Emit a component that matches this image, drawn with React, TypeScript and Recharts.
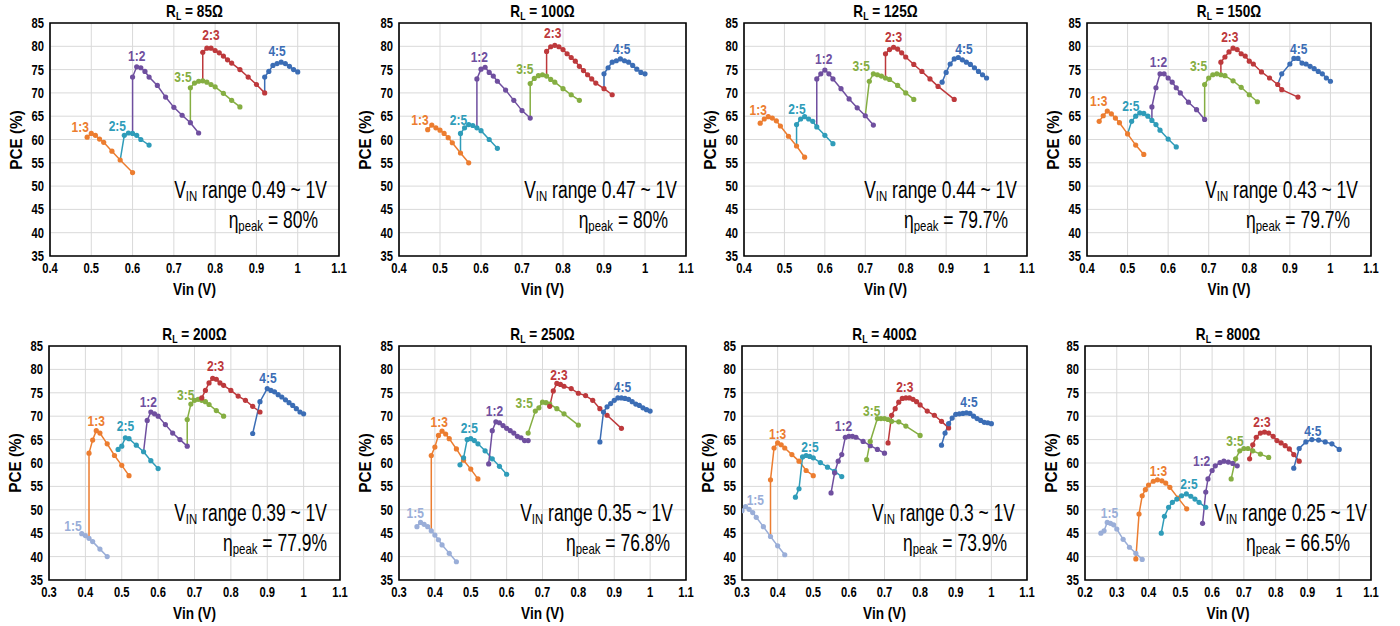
import React from 'react'
import {
  CartesianGrid,
  Line,
  LineChart,
  ReferenceArea,
  ReferenceDot,
  XAxis,
  YAxis,
} from 'recharts'

type Pt = [number, number]

// tick labels
const yTicks = [35, 40, 45, 50, 55, 60, 65, 70, 75, 80, 85]
const xTicksA = [0.4, 0.5, 0.6, 0.7, 0.8, 0.9, 1, 1.1]
const xTicksB = [0.3, 0.4, 0.5, 0.6, 0.7, 0.8, 0.9, 1, 1.1]
const xTicksC = [0.2, 0.3, 0.4, 0.5, 0.6, 0.7, 0.8, 0.9, 1, 1.1]

// R_L = 85 Ohm
const r85_13: Pt[] = [[0.49, 60.5], [0.5, 61.3], [0.51, 60.9], [0.52, 60.1], [0.53, 59.4], [0.55, 57.5], [0.57, 55.6], [0.6, 52.9]]
const r85_25: Pt[] = [[0.57, 55.6], [0.58, 60.9], [0.59, 61.4], [0.6, 61.3], [0.61, 60.9], [0.62, 60.0], [0.64, 58.8]]
const r85_12: Pt[] = [[0.6, 61.3], [0.6, 73.4], [0.61, 75.6], [0.62, 75.4], [0.63, 74.6], [0.64, 73.4], [0.66, 71.6], [0.68, 69.1], [0.7, 66.9], [0.72, 65.2], [0.74, 63.6], [0.76, 61.4]]
const r85_35: Pt[] = [[0.74, 63.6], [0.74, 71.1], [0.75, 72.1], [0.76, 72.5], [0.77, 72.6], [0.78, 72.3], [0.79, 71.8], [0.8, 71.3], [0.82, 69.9], [0.84, 68.4], [0.86, 67.0]]
const r85_23: Pt[] = [[0.77, 72.6], [0.77, 78.7], [0.78, 79.6], [0.79, 79.6], [0.8, 79.1], [0.81, 78.6], [0.82, 77.9], [0.83, 77.1], [0.84, 76.4], [0.86, 75.0], [0.88, 73.4], [0.9, 71.8], [0.92, 70.0]]
const r85_45: Pt[] = [[0.92, 70.0], [0.92, 73.4], [0.93, 74.6], [0.94, 75.9], [0.95, 76.3], [0.96, 76.6], [0.97, 76.3], [0.98, 75.7], [0.99, 75.0], [1.0, 74.5]]

// R_L = 100 Ohm
const r100_13: Pt[] = [[0.47, 62.1], [0.48, 63.1], [0.49, 62.5], [0.5, 62.0], [0.51, 61.3], [0.52, 60.4], [0.53, 59.3], [0.55, 57.1], [0.57, 55.0]]
const r100_25: Pt[] = [[0.55, 57.1], [0.55, 61.3], [0.56, 62.5], [0.57, 63.2], [0.58, 63.0], [0.59, 62.5], [0.6, 61.9], [0.62, 60.0], [0.64, 58.1]]
const r100_12: Pt[] = [[0.59, 62.5], [0.59, 73.0], [0.6, 75.1], [0.61, 75.5], [0.62, 74.4], [0.63, 73.6], [0.64, 72.5], [0.66, 70.6], [0.68, 68.4], [0.7, 66.2], [0.72, 64.6]]
const r100_35: Pt[] = [[0.72, 64.6], [0.72, 72.0], [0.73, 73.1], [0.74, 73.7], [0.75, 73.9], [0.76, 73.6], [0.77, 72.9], [0.78, 72.3], [0.8, 70.9], [0.82, 69.6], [0.84, 68.4]]
const r100_23: Pt[] = [[0.76, 73.6], [0.76, 78.9], [0.77, 79.9], [0.78, 80.2], [0.79, 79.9], [0.8, 79.3], [0.81, 78.4], [0.82, 77.6], [0.83, 76.8], [0.84, 75.7], [0.85, 74.8], [0.86, 73.9], [0.87, 73.0], [0.88, 72.1], [0.9, 70.9], [0.92, 69.6]]
const r100_45: Pt[] = [[0.9, 70.9], [0.9, 74.1], [0.91, 75.4], [0.92, 76.6], [0.93, 76.9], [0.94, 77.3], [0.95, 76.9], [0.96, 76.6], [0.97, 75.9], [0.98, 75.1], [0.99, 74.4], [1.0, 74.1]]

// R_L = 125 Ohm
const r125_13: Pt[] = [[0.44, 63.5], [0.45, 64.4], [0.46, 64.9], [0.47, 64.6], [0.48, 64.0], [0.49, 62.9], [0.51, 60.7], [0.53, 58.6], [0.55, 56.2]]
const r125_25: Pt[] = [[0.53, 58.6], [0.53, 63.2], [0.54, 64.4], [0.55, 64.9], [0.56, 64.4], [0.57, 63.9], [0.58, 62.7], [0.6, 60.9], [0.62, 59.1]]
const r125_12: Pt[] = [[0.58, 62.7], [0.58, 73.0], [0.59, 74.1], [0.6, 74.9], [0.61, 74.1], [0.62, 73.0], [0.64, 70.9], [0.66, 68.7], [0.68, 66.8], [0.7, 65.1], [0.72, 63.1]]
const r125_35: Pt[] = [[0.7, 65.1], [0.71, 72.5], [0.72, 74.1], [0.73, 73.9], [0.74, 73.6], [0.75, 73.2], [0.76, 72.9], [0.78, 71.6], [0.8, 70.0], [0.82, 68.6]]
const r125_23: Pt[] = [[0.75, 73.2], [0.75, 78.4], [0.76, 79.3], [0.77, 79.8], [0.78, 79.4], [0.79, 78.6], [0.8, 77.7], [0.82, 76.1], [0.84, 74.6], [0.86, 73.0], [0.88, 71.4], [0.92, 68.6]]
const r125_45: Pt[] = [[0.89, 72.3], [0.9, 74.4], [0.91, 76.2], [0.92, 77.3], [0.93, 77.6], [0.94, 77.1], [0.95, 76.6], [0.96, 76.1], [0.97, 75.4], [0.98, 74.6], [0.99, 73.9], [1.0, 73.2]]

// R_L = 150 Ohm
const r150_13: Pt[] = [[0.43, 63.9], [0.44, 65.1], [0.45, 66.1], [0.46, 65.5], [0.47, 64.6], [0.48, 63.6], [0.5, 61.2], [0.52, 58.8], [0.54, 56.8]]
const r150_25: Pt[] = [[0.5, 61.2], [0.51, 63.9], [0.52, 65.0], [0.53, 65.7], [0.54, 65.6], [0.55, 65.0], [0.56, 64.1], [0.57, 63.2], [0.58, 62.0], [0.6, 60.1], [0.62, 58.4]]
const r150_12: Pt[] = [[0.56, 64.1], [0.56, 67.0], [0.57, 71.1], [0.58, 74.1], [0.59, 74.1], [0.6, 73.2], [0.61, 72.3], [0.62, 71.1], [0.63, 70.0], [0.65, 68.0], [0.67, 66.4], [0.69, 64.3]]
const r150_35: Pt[] = [[0.69, 64.3], [0.69, 71.8], [0.7, 73.2], [0.71, 73.9], [0.72, 74.1], [0.73, 73.9], [0.74, 73.7], [0.76, 72.6], [0.78, 71.2], [0.8, 69.6], [0.82, 68.1]]
const r150_23: Pt[] = [[0.73, 73.9], [0.73, 76.6], [0.74, 77.7], [0.75, 78.8], [0.76, 79.6], [0.77, 79.3], [0.78, 78.4], [0.79, 77.9], [0.8, 76.8], [0.81, 76.2], [0.83, 74.5], [0.85, 73.2], [0.87, 71.8], [0.88, 70.7], [0.92, 69.1]]
const r150_45: Pt[] = [[0.87, 71.8], [0.88, 74.1], [0.9, 76.2], [0.91, 77.4], [0.92, 77.4], [0.93, 76.4], [0.94, 76.2], [0.95, 75.7], [0.96, 75.2], [0.97, 74.6], [0.98, 74.1], [0.99, 73.2], [1.0, 72.5]]

// R_L = 200 Ohm
const r200_15: Pt[] = [[0.39, 44.9], [0.4, 44.5], [0.41, 43.9], [0.42, 43.2], [0.44, 41.6], [0.46, 40.0]]
const r200_13: Pt[] = [[0.41, 43.9], [0.41, 62.1], [0.42, 64.9], [0.43, 66.9], [0.44, 66.4], [0.46, 64.1], [0.48, 61.6], [0.5, 59.5], [0.52, 57.3]]
const r200_25: Pt[] = [[0.49, 62.9], [0.5, 63.6], [0.51, 65.4], [0.52, 65.2], [0.54, 63.8], [0.56, 62.4], [0.58, 60.5], [0.6, 58.8]]
const r200_12: Pt[] = [[0.56, 62.4], [0.57, 69.1], [0.58, 70.9], [0.59, 70.5], [0.6, 70.0], [0.62, 68.2], [0.64, 66.4], [0.66, 65.0], [0.68, 63.6]]
const r200_35: Pt[] = [[0.68, 63.6], [0.68, 69.3], [0.69, 72.6], [0.7, 73.4], [0.71, 73.6], [0.72, 73.4], [0.73, 73.1], [0.74, 72.5], [0.76, 71.2], [0.78, 70.0]]
const r200_23: Pt[] = [[0.72, 73.9], [0.73, 75.5], [0.74, 77.1], [0.75, 78.1], [0.76, 77.9], [0.77, 77.1], [0.78, 76.6], [0.8, 75.5], [0.82, 74.3], [0.84, 73.4], [0.86, 72.1], [0.88, 70.9]]
const r200_45: Pt[] = [[0.86, 66.3], [0.88, 73.1], [0.9, 75.9], [0.91, 75.5], [0.92, 75.2], [0.93, 74.6], [0.94, 74.1], [0.95, 73.5], [0.96, 72.9], [0.97, 72.3], [0.98, 71.6], [0.99, 70.9], [1.0, 70.5]]

// R_L = 250 Ohm
const r250_15: Pt[] = [[0.35, 46.4], [0.36, 47.3], [0.37, 46.9], [0.38, 46.4], [0.39, 45.5], [0.4, 44.6], [0.41, 43.6], [0.42, 42.5], [0.44, 40.7], [0.46, 38.9]]
const r250_13: Pt[] = [[0.39, 45.5], [0.39, 61.6], [0.4, 63.4], [0.41, 65.9], [0.42, 66.8], [0.43, 66.2], [0.44, 65.2], [0.46, 63.0], [0.48, 60.6], [0.5, 58.7], [0.52, 56.6]]
const r250_25: Pt[] = [[0.47, 59.6], [0.48, 61.1], [0.49, 65.0], [0.5, 65.2], [0.51, 64.8], [0.52, 64.1], [0.54, 62.6], [0.56, 60.9], [0.58, 59.3], [0.6, 57.6]]
const r250_12: Pt[] = [[0.55, 59.8], [0.56, 66.9], [0.57, 68.8], [0.58, 68.6], [0.59, 68.0], [0.6, 67.4], [0.61, 66.9], [0.62, 66.4], [0.63, 65.7], [0.64, 65.4], [0.65, 64.8], [0.66, 64.8]]
const r250_35: Pt[] = [[0.66, 66.4], [0.68, 71.1], [0.69, 71.8], [0.7, 73.0], [0.71, 72.9], [0.72, 72.6], [0.74, 71.6], [0.76, 70.5], [0.8, 68.1]]
const r250_23: Pt[] = [[0.72, 72.1], [0.73, 75.4], [0.74, 77.0], [0.75, 76.8], [0.76, 76.4], [0.78, 75.9], [0.8, 74.9], [0.82, 74.4], [0.84, 73.4], [0.86, 71.6], [0.88, 70.2], [0.92, 67.4]]
const r250_45: Pt[] = [[0.86, 64.5], [0.87, 70.9], [0.88, 72.0], [0.89, 72.7], [0.9, 73.4], [0.91, 73.9], [0.92, 73.9], [0.93, 73.8], [0.94, 73.6], [0.95, 73.1], [0.96, 72.6], [0.97, 72.3], [0.98, 71.8], [0.99, 71.4], [1.0, 71.1]]

// R_L = 400 Ohm
const r400_15: Pt[] = [[0.3, 49.8], [0.31, 50.7], [0.32, 50.1], [0.33, 49.4], [0.34, 48.4], [0.36, 46.4], [0.38, 44.3], [0.4, 42.3], [0.42, 40.4]]
const r400_13: Pt[] = [[0.38, 44.3], [0.38, 56.4], [0.39, 63.2], [0.4, 64.3], [0.41, 63.9], [0.42, 63.2], [0.44, 61.8], [0.46, 60.4], [0.48, 58.4], [0.5, 57.3]]
const r400_25: Pt[] = [[0.45, 52.7], [0.46, 54.5], [0.47, 61.3], [0.48, 61.6], [0.49, 61.4], [0.5, 61.1], [0.52, 60.1], [0.54, 59.1], [0.56, 58.2], [0.58, 57.1]]
const r400_12: Pt[] = [[0.55, 53.6], [0.56, 57.9], [0.57, 60.4], [0.58, 61.8], [0.59, 65.5], [0.6, 65.7], [0.61, 65.7], [0.62, 65.5], [0.64, 64.6], [0.66, 63.7], [0.68, 62.9], [0.7, 62.1]]
const r400_35: Pt[] = [[0.65, 60.7], [0.66, 64.6], [0.68, 69.5], [0.69, 69.5], [0.7, 69.5], [0.71, 69.3], [0.72, 68.9], [0.74, 68.8], [0.76, 67.9], [0.8, 65.9]]
const r400_23: Pt[] = [[0.71, 64.3], [0.72, 70.2], [0.73, 71.6], [0.74, 73.0], [0.75, 73.8], [0.76, 73.9], [0.77, 73.9], [0.78, 73.6], [0.79, 73.1], [0.8, 72.4], [0.82, 71.1], [0.84, 70.2], [0.86, 68.9], [0.88, 67.5]]
const r400_45: Pt[] = [[0.86, 63.8], [0.87, 66.4], [0.88, 68.4], [0.89, 69.6], [0.9, 70.4], [0.91, 70.5], [0.92, 70.6], [0.93, 70.7], [0.94, 70.6], [0.95, 70.0], [0.96, 69.5], [0.97, 69.1], [0.98, 68.7], [0.99, 68.6], [1.0, 68.4]]

// R_L = 800 Ohm
const r800_15: Pt[] = [[0.25, 45.0], [0.26, 45.5], [0.27, 47.3], [0.28, 47.1], [0.29, 46.8], [0.3, 45.9], [0.32, 43.7], [0.34, 42.0], [0.36, 40.7], [0.38, 39.4]]
const r800_13: Pt[] = [[0.36, 39.5], [0.37, 49.1], [0.38, 53.0], [0.39, 54.3], [0.4, 55.3], [0.415, 56.1], [0.428, 56.4], [0.442, 56.2], [0.454, 55.7], [0.467, 54.8], [0.493, 52.5], [0.52, 50.2]]
const r800_25: Pt[] = [[0.44, 45.0], [0.45, 48.6], [0.463, 50.5], [0.475, 51.6], [0.489, 52.3], [0.504, 53.0], [0.519, 53.4], [0.533, 52.9], [0.546, 52.3], [0.559, 51.6], [0.58, 50.5]]
const r800_12: Pt[] = [[0.57, 47.1], [0.58, 53.8], [0.587, 56.6], [0.6, 58.4], [0.61, 59.4], [0.625, 60.1], [0.637, 60.4], [0.651, 60.2], [0.665, 59.9], [0.679, 59.4]]
const r800_35: Pt[] = [[0.66, 56.6], [0.674, 60.9], [0.687, 62.6], [0.7, 63.1], [0.713, 63.1], [0.728, 62.6], [0.752, 61.9], [0.778, 61.2]]
const r800_23: Pt[] = [[0.718, 60.9], [0.728, 63.9], [0.739, 65.5], [0.752, 66.4], [0.765, 66.6], [0.778, 66.4], [0.792, 65.7], [0.804, 64.8], [0.817, 64.3], [0.83, 63.7], [0.843, 63.0], [0.857, 61.8], [0.874, 60.4]]
const r800_45: Pt[] = [[0.857, 58.9], [0.874, 63.1], [0.895, 64.5], [0.914, 65.0], [0.935, 64.9], [0.956, 64.5], [0.977, 64.1], [1.0, 62.9]]

const ratioColors: Record<string, string> = {
  '1:5': '#9aaed8',
  '1:3': '#ec7d30',
  '2:5': '#2f9cb9',
  '1:2': '#6f4f9f',
  '3:5': '#85ae42',
  '2:3': '#bd393c',
  '4:5': '#3b6db5',
}

const FONT = "'Liberation Sans', Arial, sans-serif"
// the source figure uses a narrow face; squeeze the regular one horizontally
const NARROW = 0.8

// [ratio, points, label anchor (x, y)]
type Seg = [string, Pt[], Pt]

const panels = [
  {
    load: '85', vin: '0.49', peak: '80', xTicks: xTicksA,
    left: 50, top: 23, w: 289, h: 233, vinR: 12, etaR: 21,
    segs: [
      ['1:3', r85_13, [0.473, 62.7]], ['2:5', r85_25, [0.563, 63.0]], ['1:2', r85_12, [0.61, 78.1]],
      ['3:5', r85_35, [0.722, 73.4]], ['2:3', r85_23, [0.79, 82.5]], ['4:5', r85_45, [0.95, 79.1]],
    ] as Seg[],
  },
  {
    load: '100', vin: '0.47', peak: '80', xTicks: xTicksA,
    left: 399, top: 23, w: 287, h: 233, vinR: 9, etaR: 18,
    segs: [
      ['1:3', r100_13, [0.451, 64.3]], ['2:5', r100_25, [0.545, 64.3]], ['1:2', r100_12, [0.596, 77.7]],
      ['3:5', r100_35, [0.707, 75.2]], ['2:3', r100_23, [0.775, 82.9]], ['4:5', r100_45, [0.943, 79.5]],
    ] as Seg[],
  },
  {
    load: '125', vin: '0.44', peak: '79.7', xTicks: xTicksA,
    left: 744, top: 23, w: 283, h: 233, vinR: 10, etaR: 19,
    segs: [
      ['1:3', r125_13, [0.435, 66.4]], ['2:5', r125_25, [0.531, 66.6]], ['1:2', r125_12, [0.597, 77.4]],
      ['3:5', r125_35, [0.69, 75.9]], ['2:3', r125_23, [0.77, 82.1]], ['4:5', r125_45, [0.944, 79.4]],
    ] as Seg[],
  },
  {
    load: '150', vin: '0.43', peak: '79.7', xTicks: xTicksA,
    left: 1087, top: 23, w: 284, h: 233, vinR: 13, etaR: 21,
    segs: [
      ['1:3', r150_13, [0.429, 68.3]], ['2:5', r150_25, [0.508, 67.3]], ['1:2', r150_12, [0.576, 76.8]],
      ['3:5', r150_35, [0.675, 75.9]], ['2:3', r150_23, [0.752, 82.0]], ['4:5', r150_45, [0.922, 79.4]],
    ] as Seg[],
  },
  {
    load: '200', vin: '0.39', peak: '77.9', xTicks: xTicksB,
    left: 49, top: 346, w: 291, h: 234, vinR: 13, etaR: 13,
    segs: [
      ['1:5', r200_15, [0.366, 46.6]], ['1:3', r200_13, [0.43, 69.1]], ['2:5', r200_25, [0.51, 67.9]],
      ['1:2', r200_12, [0.573, 73.1]], ['3:5', r200_35, [0.676, 74.6]], ['2:3', r200_23, [0.758, 80.9]],
      ['4:5', r200_45, [0.902, 78.2]],
    ] as Seg[],
  },
  {
    load: '250', vin: '0.35', peak: '76.8', xTicks: xTicksB,
    left: 399, top: 346, w: 287, h: 234, vinR: 13, etaR: 16,
    segs: [
      ['1:5', r250_15, [0.345, 49.3]], ['1:3', r250_13, [0.412, 68.8]], ['2:5', r250_25, [0.496, 67.5]],
      ['1:2', r250_12, [0.566, 71.3]], ['3:5', r250_35, [0.649, 73.0]], ['2:3', r250_23, [0.746, 78.9]],
      ['4:5', r250_45, [0.923, 76.3]],
    ] as Seg[],
  },
  {
    load: '400', vin: '0.3', peak: '73.9', xTicks: xTicksB,
    left: 742, top: 346, w: 285, h: 234, vinR: 12, etaR: 20,
    segs: [
      ['1:5', r400_15, [0.3375, 52.1]], ['1:3', r400_13, [0.4, 66.3]], ['2:5', r400_25, [0.491, 63.6]],
      ['1:2', r400_12, [0.585, 68.0]], ['3:5', r400_35, [0.664, 71.2]], ['2:3', r400_23, [0.757, 76.4]],
      ['4:5', r400_45, [0.937, 73.1]],
    ] as Seg[],
  },
  {
    load: '800', vin: '0.25', peak: '66.5', xTicks: xTicksC,
    left: 1085, top: 346, w: 286, h: 234, vinR: 4, etaR: 21,
    segs: [
      ['1:5', r800_15, [0.277, 49.4]], ['1:3', r800_13, [0.431, 58.4]], ['2:5', r800_25, [0.527, 55.7]],
      ['1:2', r800_12, [0.567, 60.6]], ['3:5', r800_35, [0.672, 64.8]], ['2:3', r800_23, [0.757, 68.8]],
      ['4:5', r800_45, [0.917, 66.9]],
    ] as Seg[],
  },
]

const ML = 50
const MT = 30
const MR = 12
const MB = 50

// squeezed text centred on (x, y) horizontally according to anchor
function Squeezed({ x, y, anchor, dy, children, ...rest }: any) {
  return (
    <g transform={`translate(${x} ${y}) scale(${NARROW} 1)`}>
      <text x={0} y={0} dy={dy} textAnchor={anchor} fontFamily={FONT} {...rest}>
        {children}
      </text>
    </g>
  )
}

const XTick = (props: any) => (
  <Squeezed x={props.x} y={props.y} anchor="middle" dy="0.71em" fontSize={14} fontWeight={700} fill="#000">
    {String(props.payload.value)}
  </Squeezed>
)

const YTick = (props: any) => (
  <Squeezed x={props.x} y={props.y} anchor="end" dy="0.36em" fontSize={14} fontWeight={700} fill="#000">
    {String(props.payload.value)}
  </Squeezed>
)

function Panel({ p }: { p: (typeof panels)[number] }) {
  const W = p.w + ML + MR
  const H = p.h + MT + MB
  const xmin = p.xTicks[0]
  const xmax = p.xTicks[p.xTicks.length - 1]
  const narrowDiv = (origin: string) => ({ transform: `scaleX(${NARROW})`, transformOrigin: origin })
  return (
    <div style={{ position: 'absolute', left: p.left - ML, top: p.top - MT, width: W, height: H }}>
      <LineChart width={W} height={H} margin={{ top: MT, right: MR, bottom: 0, left: 0 }}>
        <CartesianGrid stroke="#d9d9d9" strokeWidth={1} />
        <XAxis
          dataKey="x"
          type="number"
          domain={[xmin, xmax]}
          ticks={p.xTicks}
          interval={0}
          allowDataOverflow
          height={MB}
          axisLine={false}
          tickLine={false}
          tickSize={0}
          tickMargin={7}
          tick={XTick}
        />
        <YAxis
          type="number"
          domain={[35, 85]}
          ticks={yTicks}
          interval={0}
          allowDataOverflow
          width={ML}
          axisLine={false}
          tickLine={false}
          tickSize={0}
          tickMargin={6}
          tick={YTick}
        />
        <ReferenceArea
          x1={xmin}
          x2={xmax}
          y1={35}
          y2={85}
          fill="none"
          fillOpacity={0}
          stroke="#000"
          strokeWidth={1.6}
          ifOverflow="visible"
        />
        {p.segs.map(([ratio, pts], si) => {
          const color = ratioColors[ratio]
          const [fx, fy] = pts[0]
          // first point sits on an earlier series (the switching step): no dot of its own
          const joined = p.segs
            .slice(0, si)
            .some(([, other]) => other.some(([ox, oy]) => ox === fx && oy === fy))
          return (
            <Line
              key={ratio}
              data={pts.map(([x, y]) => ({ x, y }))}
              dataKey="y"
              stroke={color}
              strokeWidth={1.5}
              isAnimationActive={false}
              activeDot={false}
              dot={(props: any) => {
                const { cx, cy, index } = props
                if (joined && index === 0) return <g key={`d${index}`} />
                return <circle key={`d${index}`} cx={cx} cy={cy} r={2.6} fill={color} stroke="none" />
              }}
            />
          )
        })}
        {p.segs.map(([ratio, , at]) => (
          <ReferenceDot
            key={`l${ratio}`}
            x={at[0]}
            y={at[1]}
            r={0}
            fill="none"
            stroke="none"
            label={(lp: any) => {
              const vb = lp.viewBox || {}
              const cx = (vb.x ?? 0) + (vb.width ?? 0) / 2
              const cy = (vb.y ?? 0) + (vb.height ?? 0) / 2
              return (
                <Squeezed x={cx} y={cy} anchor="middle" dy="0.36em" fontSize={15} fontWeight={700} fill={ratioColors[ratio]}>
                  {ratio}
                </Squeezed>
              )
            }}
          />
        ))}
      </LineChart>
      <div
        style={{
          position: 'absolute', left: ML, width: p.w, top: MT - 21, textAlign: 'center',
          fontSize: 17, fontWeight: 700, lineHeight: '20px', ...narrowDiv('center'),
        }}
      >
        R<sub style={{ fontSize: 11, verticalAlign: -3 }}>L</sub> = {p.load}Ω
      </div>
      <div
        style={{
          position: 'absolute', left: ML - 33 - 60, width: 120, top: MT + p.h / 2 - 10,
          textAlign: 'center', fontSize: 17, fontWeight: 700, lineHeight: '20px',
          transform: 'rotate(-90deg) scaleX(0.9)',
        }}
      >
        PCE (%)
      </div>
      <div
        style={{
          position: 'absolute', left: ML, width: p.w, top: MT + p.h + 24, textAlign: 'center',
          fontSize: 17, fontWeight: 700, lineHeight: '20px', ...narrowDiv('center'),
        }}
      >
        Vin (V)
      </div>
      <div
        style={{
          position: 'absolute', left: ML + p.w - p.vinR - 300, width: 300, top: MT + 154,
          textAlign: 'right', fontSize: 23, lineHeight: '26px', whiteSpace: 'nowrap',
          transform: 'scaleX(0.76)', transformOrigin: 'right center',
        }}
      >
        V<sub style={{ fontSize: 15, verticalAlign: -3 }}>IN</sub> range {p.vin} ~ 1V
      </div>
      <div
        style={{
          position: 'absolute', left: ML + p.w - p.etaR - 300, width: 300, top: MT + 184,
          textAlign: 'right', fontSize: 23, lineHeight: '26px', whiteSpace: 'nowrap',
          transform: 'scaleX(0.76)', transformOrigin: 'right center',
        }}
      >
        η<sub style={{ fontSize: 15, verticalAlign: -3 }}>peak</sub> = {p.peak}%
      </div>
    </div>
  )
}

export default function App() {
  return (
    <div
      style={{
        position: 'absolute', left: 0, top: 0, width: 1400, height: 626,
        background: '#fff', fontFamily: FONT, color: '#000', overflow: 'hidden',
      }}
    >
      {panels.map((p) => (
        <Panel key={p.load} p={p} />
      ))}
    </div>
  )
}
